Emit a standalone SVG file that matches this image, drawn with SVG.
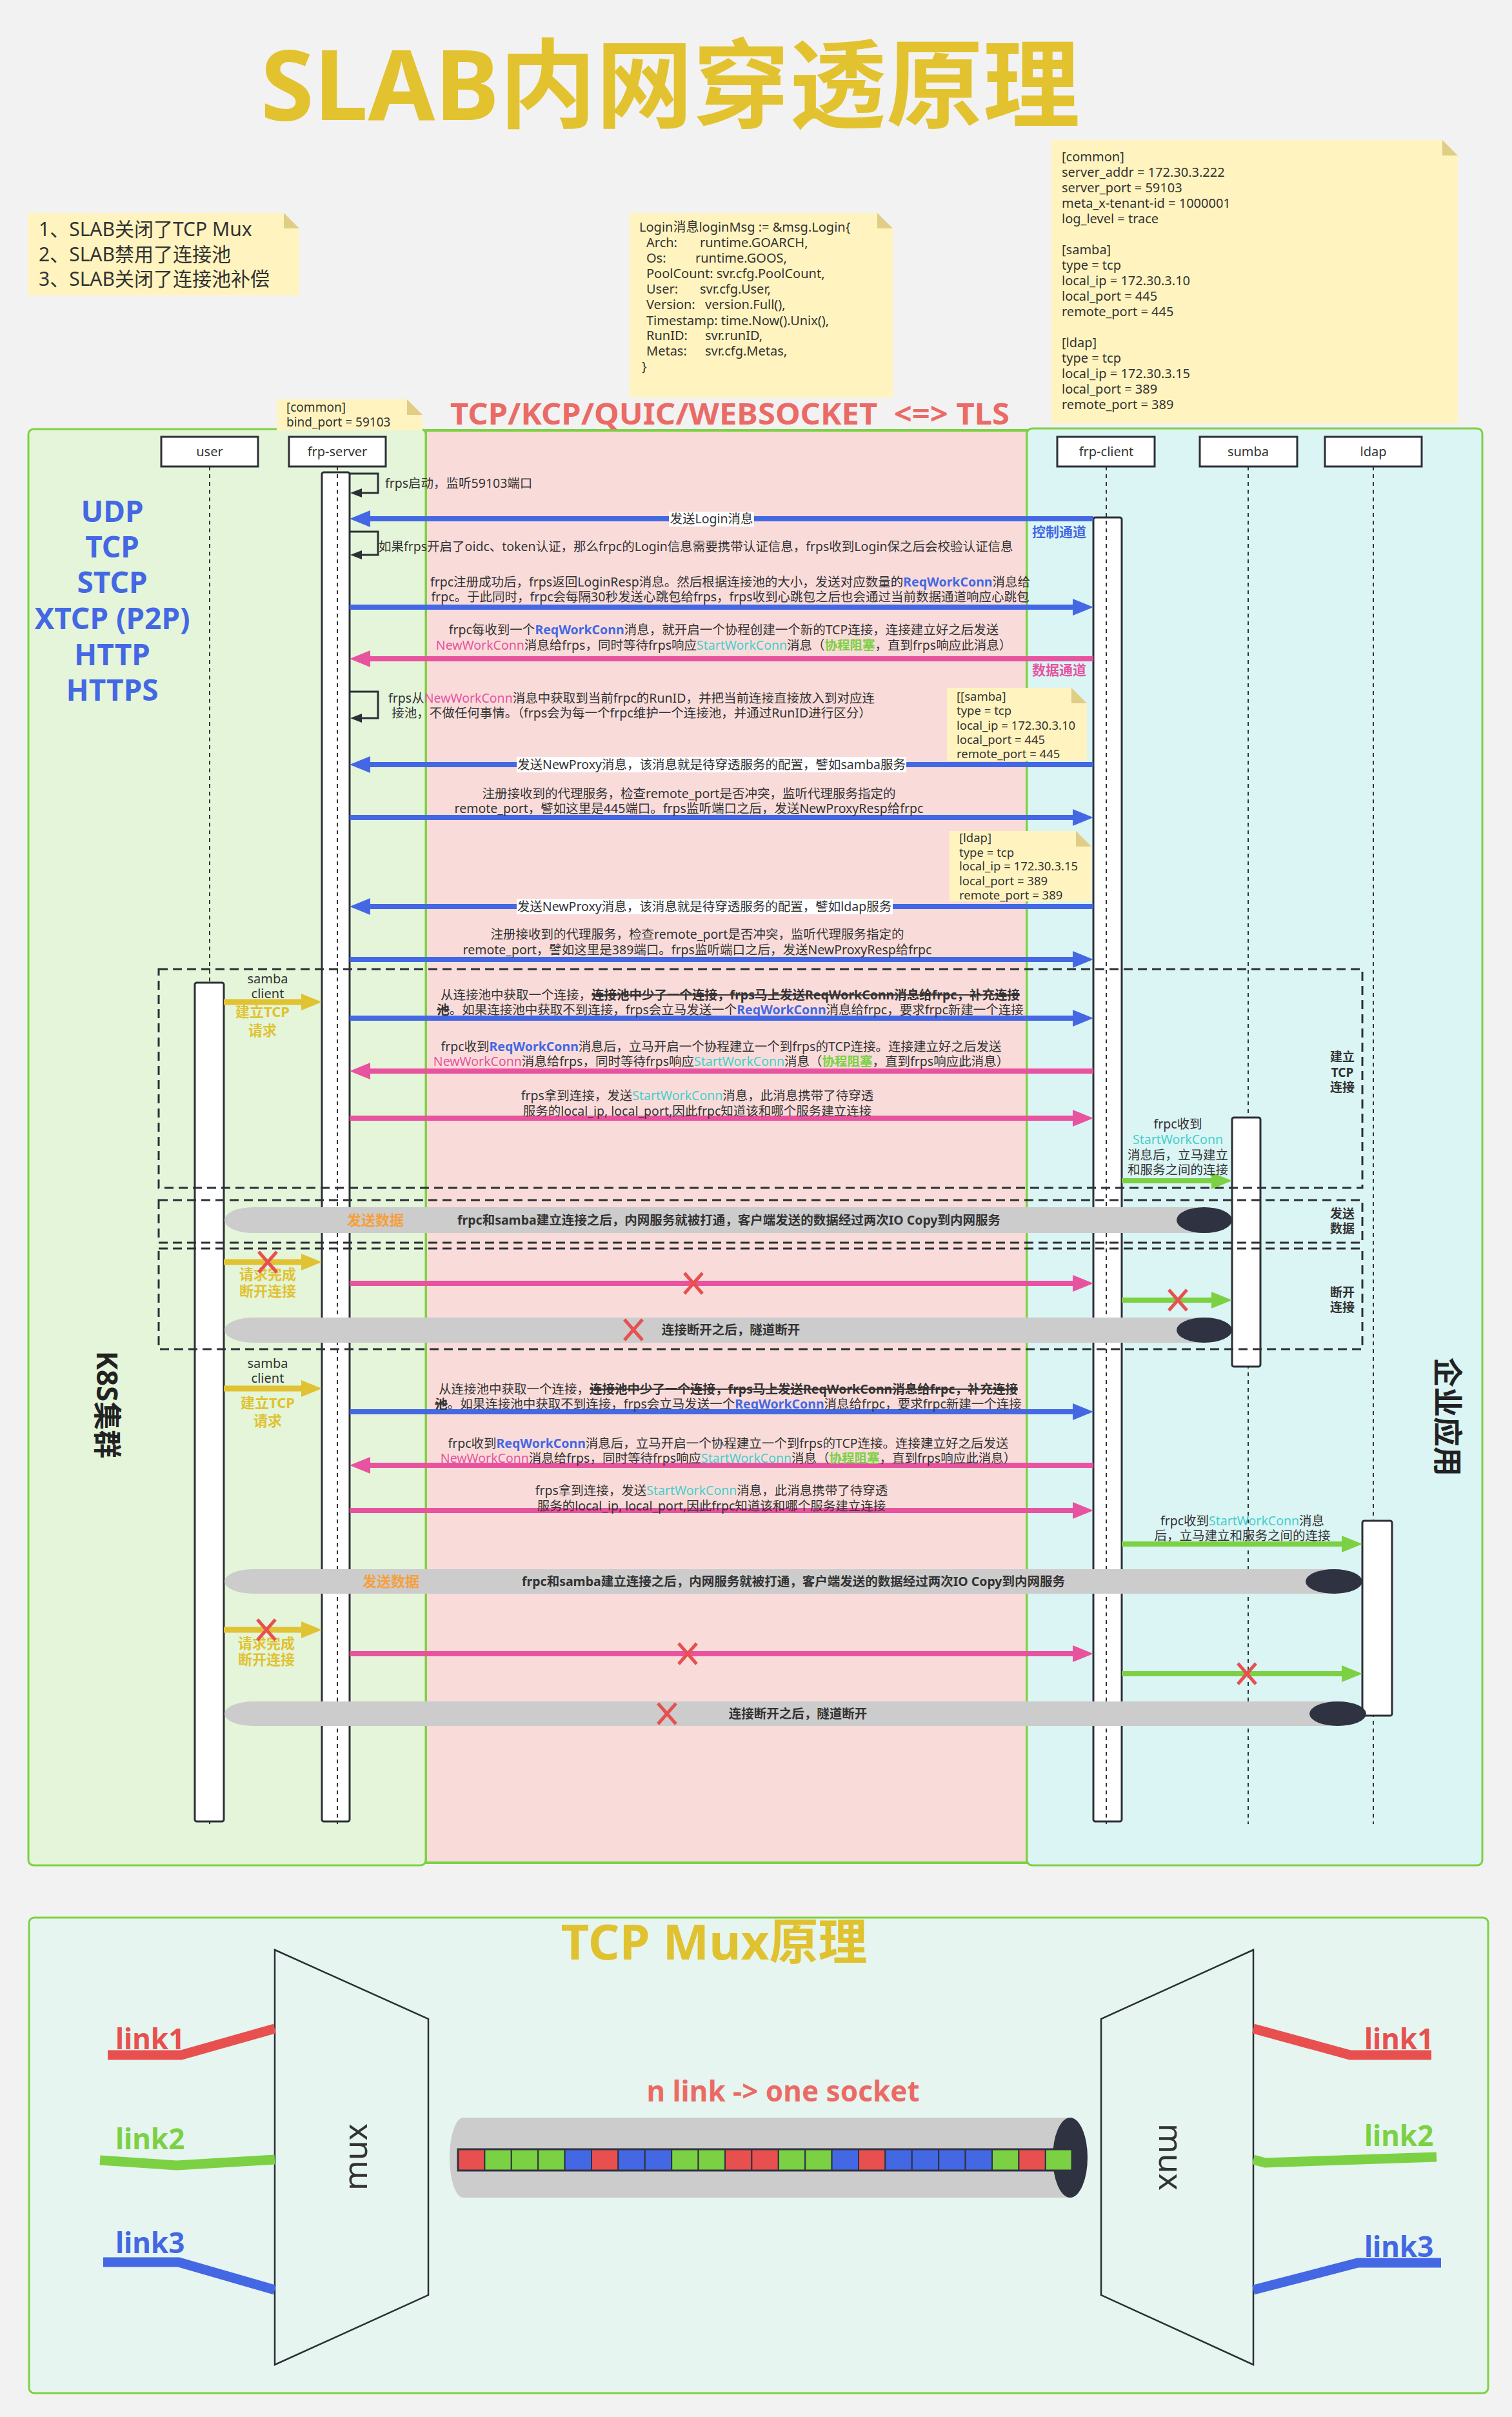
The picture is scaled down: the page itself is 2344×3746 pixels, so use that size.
<svg xmlns="http://www.w3.org/2000/svg" width="2344" height="3746" viewBox="0 0 2344 3746">
<defs>
<style>
text{font-family:"Noto Sans","Noto Sans CJK SC",sans-serif;fill:#333}
.m{font-size:19.5px;text-anchor:middle}
.ml{font-size:19.5px}
.b{font-weight:bold}
.bl{fill:#4468e4}
.pk{fill:#e8539f}
.tl{fill:#45cfcc}
.gn{fill:#7bd143}
.yl{fill:#e1c232}
.og{fill:#f5a03c}
.note{fill:#fff4bf}
.fold{fill:#e0cd86}
.nt{font-size:20px}
.sn{font-size:18.5px}
.life{stroke:#333;stroke-width:2;stroke-dasharray:6 6;fill:none}
.bar{fill:#fff;stroke:#2b2f36;stroke-width:3}
.head{fill:#fff;stroke:#2b2f36;stroke-width:3}
.frag{fill:none;stroke:#2b2f36;stroke-width:3;stroke-dasharray:14 8}
.aB{stroke:#4468e4;stroke-width:8;fill:none;marker-end:url(#hB)}
.aP{stroke:#e8539f;stroke-width:8;fill:none;marker-end:url(#hP)}
.aY{stroke:#e1c232;stroke-width:9;fill:none;marker-end:url(#hY)}
.aG{stroke:#7bd143;stroke-width:8;fill:none;marker-end:url(#hG)}
.self{stroke:#2b2f36;stroke-width:3;fill:none;marker-end:url(#hK)}
.x{stroke:#e85050;stroke-width:5}
.band{fill:#cccccc}
.blob{fill:#2f3241}
.rl{font-size:19px;font-weight:bold;text-anchor:middle}
.yt{font-size:22px;font-weight:bold;text-anchor:middle;fill:#e1c232}
.lk{font-size:44px;font-weight:bold}
.proto{font-size:46px;font-weight:bold;text-anchor:middle;fill:#4468e4}
</style>
<marker id="hB" markerUnits="userSpaceOnUse" markerWidth="32" markerHeight="26" viewBox="0 0 32 26" refX="2" refY="13" orient="auto"><path d="M0,0 L32,13 L0,26 z" fill="#4468e4"/></marker>
<marker id="hP" markerUnits="userSpaceOnUse" markerWidth="32" markerHeight="26" viewBox="0 0 32 26" refX="2" refY="13" orient="auto"><path d="M0,0 L32,13 L0,26 z" fill="#e8539f"/></marker>
<marker id="hY" markerUnits="userSpaceOnUse" markerWidth="32" markerHeight="26" viewBox="0 0 32 26" refX="2" refY="13" orient="auto"><path d="M0,0 L32,13 L0,26 z" fill="#e1c232"/></marker>
<marker id="hG" markerUnits="userSpaceOnUse" markerWidth="32" markerHeight="26" viewBox="0 0 32 26" refX="2" refY="13" orient="auto"><path d="M0,0 L32,13 L0,26 z" fill="#7bd143"/></marker>
<marker id="hK" markerUnits="userSpaceOnUse" markerWidth="18" markerHeight="14" viewBox="0 0 18 14" refX="1" refY="7" orient="auto"><path d="M0,0 L18,7 L0,14 z" fill="#2b2f36"/></marker>
</defs>

<rect x="0" y="0" width="2344" height="3746" fill="#f2f2f2"/>

<text x="1039" y="186" text-anchor="middle" font-size="150" font-weight="bold" style="fill:#e3c22f">SLAB内网穿透原理</text>

<!-- frames -->
<g id="frame-internet">
<rect x="660" y="667" width="932" height="2220" fill="#f9dcda" stroke="#7ed144" stroke-width="4"/>
</g>
<g id="frame-k8s">
<rect x="44" y="665" width="616" height="2226" rx="8" fill="#e4f5d9" stroke="#7ed144" stroke-width="3"/>
<text transform="translate(167,2177) rotate(90)" text-anchor="middle" dominant-baseline="central" font-size="44" font-weight="bold" style="fill:#222">K8S集群</text>
<text class="proto" x="174" y="809">UDP</text>
<text class="proto" x="174" y="864">TCP</text>
<text class="proto" x="174" y="919">STCP</text>
<text class="proto" x="174" y="975">XTCP (P2P)</text>
<text class="proto" x="174" y="1031">HTTP</text>
<text class="proto" x="174" y="1086">HTTPS</text>
</g>
<g id="frame-enterprise">
<rect x="1592" y="664" width="706" height="2227" rx="8" fill="#dbf4f4" stroke="#7ed144" stroke-width="3"/>
<text transform="translate(2246,2196) rotate(90)" text-anchor="middle" dominant-baseline="central" font-size="46" font-weight="bold" style="fill:#222">企业应用</text>
</g>
<text x="698" y="658" font-size="46" font-weight="bold" textLength="867" lengthAdjust="spacingAndGlyphs" style="fill:#ea6b66" xml:space="preserve">TCP/KCP/QUIC/WEBSOCKET  &lt;=&gt; TLS</text>

<!-- notes -->
<g id="note-slab">
<polygon class="note" points="43,330 440,330 464,354 464,458 43,458"/>
<polygon class="fold" points="440,330 440,354 464,354"/>
<text x="60" y="366" font-size="30">1、SLAB关闭了TCP Mux</text>
<text x="60" y="405" font-size="30">2、SLAB禁用了连接池</text>
<text x="60" y="443" font-size="30">3、SLAB关闭了连接池补偿</text>
</g>
<g id="note-login">
<polygon class="note" points="976,330 1360,330 1384,354 1384,616 976,616"/>
<polygon class="fold" points="1360,330 1360,354 1384,354"/>
<text class="nt" x="991" y="359">Login消息loginMsg := &amp;msg.Login{</text>
<text class="nt" x="1002" y="383">Arch:<tspan x="1085">runtime.GOARCH,</tspan></text>
<text class="nt" x="1002" y="407">Os:<tspan x="1078">runtime.GOOS,</tspan></text>
<text class="nt" x="1002" y="431">PoolCount: svr.cfg.PoolCount,</text>
<text class="nt" x="1002" y="455">User:<tspan x="1085">svr.cfg.User,</tspan></text>
<text class="nt" x="1002" y="479">Version:<tspan x="1093">version.Full(),</tspan></text>
<text class="nt" x="1002" y="504">Timestamp: time.Now().Unix(),</text>
<text class="nt" x="1002" y="527">RunID:<tspan x="1093">svr.runID,</tspan></text>
<text class="nt" x="1002" y="551">Metas:<tspan x="1093">svr.cfg.Metas,</tspan></text>
<text class="nt" x="995" y="575">}</text>
</g>
<g id="note-frpc-config">
<polygon class="note" points="1630,217 2236,217 2260,241 2260,656 1630,656"/>
<polygon class="fold" points="2236,217 2236,241 2260,241"/>
<text class="nt" x="1646" y="250">[common]</text>
<text class="nt" x="1646" y="274">server_addr = 172.30.3.222</text>
<text class="nt" x="1646" y="298">server_port = 59103</text>
<text class="nt" x="1646" y="322">meta_x-tenant-id = 1000001</text>
<text class="nt" x="1646" y="346">log_level = trace</text>
<text class="nt" x="1646" y="394">[samba]</text>
<text class="nt" x="1646" y="418">type = tcp</text>
<text class="nt" x="1646" y="442">local_ip = 172.30.3.10</text>
<text class="nt" x="1646" y="466">local_port = 445</text>
<text class="nt" x="1646" y="490">remote_port = 445</text>
<text class="nt" x="1646" y="538">[ldap]</text>
<text class="nt" x="1646" y="562">type = tcp</text>
<text class="nt" x="1646" y="586">local_ip = 172.30.3.15</text>
<text class="nt" x="1646" y="610">local_port = 389</text>
<text class="nt" x="1646" y="634">remote_port = 389</text>
</g>
<g id="note-frps-config">
<polygon class="note" points="429,619 631,619 655,643 655,667 429,667"/>
<polygon class="fold" points="631,619 631,643 655,643"/>
<text x="444" y="638" font-size="19">[common]</text>
<text x="444" y="661" font-size="19">bind_port = 59103</text>
</g>

<!-- participants -->
<g id="user">
<rect class="head" x="250" y="677" width="150" height="46"/>
<text x="325" y="707" font-size="20" text-anchor="middle">user</text>
<line class="life" x1="325" y1="723" x2="325" y2="2827"/>
<rect class="bar" x="302" y="1523" width="45" height="1300" rx="3"/>
</g>
<g id="frp-server">
<rect class="head" x="448" y="677" width="150" height="46"/>
<text x="523" y="707" font-size="20" text-anchor="middle">frp-server</text>
<rect class="bar" x="499" y="732" width="43" height="2091" rx="3"/>
<line class="life" x1="523" y1="723" x2="523" y2="2827"/>
</g>
<g id="frp-client">
<rect class="head" x="1639" y="677" width="151" height="46"/>
<text x="1715" y="707" font-size="20" text-anchor="middle">frp-client</text>
<rect class="bar" x="1695" y="802" width="44" height="2021" rx="3"/>
<line class="life" x1="1715" y1="723" x2="1715" y2="2827"/>
</g>
<g id="sumba">
<rect class="head" x="1860" y="677" width="151" height="46"/>
<text x="1935" y="707" font-size="20" text-anchor="middle">sumba</text>
<line class="life" x1="1935" y1="723" x2="1935" y2="2827"/>
<rect class="bar" x="1910" y="1732" width="44" height="386" rx="3"/>
</g>
<g id="ldap">
<rect class="head" x="2054" y="677" width="150" height="46"/>
<text x="2129" y="707" font-size="20" text-anchor="middle">ldap</text>
<line class="life" x1="2129" y1="723" x2="2129" y2="2827"/>
<rect class="bar" x="2112" y="2357" width="46" height="302" rx="3"/>
</g>

<!-- small notes -->
<g id="note-samba">
<polygon class="note" points="1468,1066 1661,1066 1685,1090 1685,1179 1468,1179"/>
<polygon class="fold" points="1661,1066 1661,1090 1685,1090"/>
<text class="sn" x="1483" y="1086">[[samba]</text>
<text class="sn" x="1483" y="1108">type = tcp</text>
<text class="sn" x="1483" y="1131">local_ip = 172.30.3.10</text>
<text class="sn" x="1483" y="1153">local_port = 445</text>
<text class="sn" x="1483" y="1175">remote_port = 445</text>
</g>
<g id="note-ldap">
<polygon class="note" points="1472,1288 1668,1288 1692,1312 1692,1397 1472,1397"/>
<polygon class="fold" points="1668,1288 1668,1312 1692,1312"/>
<text class="sn" x="1487" y="1305">[ldap]</text>
<text class="sn" x="1487" y="1328">type = tcp</text>
<text class="sn" x="1487" y="1349">local_ip = 172.30.3.15</text>
<text class="sn" x="1487" y="1372">local_port = 389</text>
<text class="sn" x="1487" y="1394">remote_port = 389</text>
</g>

<!-- fragments -->
<g id="fragments">
<rect class="frag" x="246" y="1502" width="1866" height="339"/>
<rect class="frag" x="246" y="1860" width="1866" height="66"/>
<rect class="frag" x="246" y="1935" width="1866" height="156"/>
<text class="rl" x="2081" y="1645">建立</text>
<text class="rl" x="2081" y="1669">TCP</text>
<text class="rl" x="2081" y="1692">连接</text>
<text class="rl" x="2081" y="1888">发送</text>
<text class="rl" x="2081" y="1911">数据</text>
<text class="rl" x="2081" y="2010">断开</text>
<text class="rl" x="2081" y="2033">连接</text>
</g>

<!-- connectors -->
<g id="connectors">
<path class="self" d="M542,734 H586 V764 H560"/>
<path class="self" d="M542,824 H586 V860 H560"/>
<path class="self" d="M542,1072 H586 V1113 H560"/>
<line class="aB" x1="1695" y1="804" x2="572" y2="804"/>
<line class="aB" x1="542" y1="941" x2="1665" y2="941"/>
<line class="aP" x1="1695" y1="1021" x2="572" y2="1021"/>
<line class="aB" x1="1695" y1="1185" x2="572" y2="1185"/>
<line class="aB" x1="542" y1="1267" x2="1665" y2="1267"/>
<line class="aB" x1="1695" y1="1405" x2="572" y2="1405"/>
<line class="aB" x1="542" y1="1487" x2="1665" y2="1487"/>
<line class="aY" x1="347" y1="1553" x2="469" y2="1553"/>
<line class="aB" x1="542" y1="1578" x2="1665" y2="1578"/>
<line class="aP" x1="1695" y1="1660" x2="572" y2="1660"/>
<line class="aP" x1="542" y1="1733" x2="1665" y2="1733"/>
<line class="aG" x1="1739" y1="1830" x2="1880" y2="1830"/>
<line class="aY" x1="347" y1="1956" x2="469" y2="1956"/>
<line class="aP" x1="542" y1="1989" x2="1665" y2="1989"/>
<line class="aG" x1="1739" y1="2015" x2="1880" y2="2015"/>
<line class="aY" x1="347" y1="2152" x2="469" y2="2152"/>
<line class="aB" x1="542" y1="2188" x2="1665" y2="2188"/>
<line class="aP" x1="1695" y1="2271" x2="572" y2="2271"/>
<line class="aP" x1="542" y1="2341" x2="1665" y2="2341"/>
<line class="aG" x1="1739" y1="2393" x2="2082" y2="2393"/>
<line class="aY" x1="347" y1="2526" x2="469" y2="2526"/>
<line class="aP" x1="542" y1="2563" x2="1665" y2="2563"/>
<line class="aG" x1="1739" y1="2594" x2="2082" y2="2594"/>
</g>

<!-- message labels -->
<g id="labels">
<text class="ml" x="597" y="756">frps启动，监听59103端口</text>
<rect x="1037" y="793" width="132" height="23" fill="#fff"/>
<text class="m" x="1103" y="811">发送Login消息</text>
<text class="ml" x="587" y="854">如果frps开启了oidc、token认证，那么frpc的Login信息需要携带认证信息，frps收到Login保之后会校验认证信息</text>
<text class="b bl" x="1642" y="832" font-size="21" text-anchor="middle">控制通道</text>
<text class="m" x="1132" y="909">frpc注册成功后，frps返回LoginResp消息。然后根据连接池的大小，发送对应数量的<tspan class="b bl">ReqWorkConn</tspan>消息给</text>
<text class="m" x="1132" y="932">frpc。于此同时，frpc会每隔30秒发送心跳包给frps，frps收到心跳包之后也会通过当前数据通道响应心跳包</text>
<text class="m" x="1122" y="983">frpc每收到一个<tspan class="b bl">ReqWorkConn</tspan>消息，就开启一个协程创建一个新的TCP连接，连接建立好之后发送</text>
<text class="m" x="1122" y="1007"><tspan class="pk">NewWorkConn</tspan>消息给frps，同时等待frps响应<tspan class="tl">StartWorkConn</tspan>消息（<tspan class="b gn">协程阻塞</tspan>，直到frps响应此消息）</text>
<text class="b pk" x="1642" y="1046" font-size="21" text-anchor="middle">数据通道</text>
<text class="m" x="979" y="1089">frps从<tspan class="pk">NewWorkConn</tspan>消息中获取到当前frpc的RunID，并把当前连接直接放入到对应连</text>
<text class="m" x="979" y="1112">接池，不做任何事情。（frps会为每一个frpc维护一个连接池，并通过RunID进行区分）</text>
<rect x="801" y="1173" width="604" height="24" fill="#fff"/>
<text class="m" x="1103" y="1192">发送NewProxy消息，该消息就是待穿透服务的配置，譬如samba服务</text>
<text class="m" x="1068" y="1237">注册接收到的代理服务，检查remote_port是否冲突，监听代理服务指定的</text>
<text class="m" x="1068" y="1260">remote_port，譬如这里是445端口。frps监听端口之后，发送NewProxyResp给frpc</text>
<rect x="801" y="1393" width="583" height="24" fill="#fff"/>
<text class="m" x="1092" y="1412">发送NewProxy消息，该消息就是待穿透服务的配置，譬如ldap服务</text>
<text class="m" x="1081" y="1455">注册接收到的代理服务，检查remote_port是否冲突，监听代理服务指定的</text>
<text class="m" x="1081" y="1479">remote_port，譬如这里是389端口。frps监听端口之后，发送NewProxyResp给frpc</text>

<text x="415" y="1524" font-size="20" text-anchor="middle">samba</text>
<text x="415" y="1547" font-size="20" text-anchor="middle">client</text>
<text class="yt" x="407" y="1576">建立TCP</text>
<text class="yt" x="407" y="1605">请求</text>
<text class="m" x="1132" y="1549">从连接池中获取一个连接，<tspan font-weight="bold" text-decoration="line-through">连接池中少了一个连接，frps马上发送ReqWorkConn消息给frpc，补充连接</tspan></text>
<text class="m" x="1132" y="1572"><tspan font-weight="bold" text-decoration="line-through">池</tspan>。如果连接池中获取不到连接，frps会立马发送一个<tspan class="b bl">ReqWorkConn</tspan>消息给frpc，要求frpc新建一个连接</text>
<text class="m" x="1118" y="1629">frpc收到<tspan class="b bl">ReqWorkConn</tspan>消息后，立马开启一个协程建立一个到frps的TCP连接。连接建立好之后发送</text>
<text class="m" x="1118" y="1652"><tspan class="pk">NewWorkConn</tspan>消息给frps，同时等待frps响应<tspan class="tl">StartWorkConn</tspan>消息（<tspan class="b gn">协程阻塞</tspan>，直到frps响应此消息）</text>
<text class="m" x="1081" y="1705">frps拿到连接，发送<tspan class="tl">StartWorkConn</tspan>消息，此消息携带了待穿透</text>
<text class="m" x="1081" y="1729">服务的local_ip, local_port,因此frpc知道该和哪个服务建立连接</text>
<text class="m" x="1826" y="1749">frpc收到</text>
<text class="m tl" x="1826" y="1773">StartWorkConn</text>
<text class="m" x="1826" y="1797">消息后，立马建立</text>
<text class="m" x="1826" y="1820">和服务之间的连接</text>

<text class="yt" x="415" y="1983">请求完成</text>
<text class="yt" x="415" y="2009">断开连接</text>

<text x="415" y="2120" font-size="20" text-anchor="middle">samba</text>
<text x="415" y="2143" font-size="20" text-anchor="middle">client</text>
<text class="yt" x="415" y="2182">建立TCP</text>
<text class="yt" x="415" y="2210">请求</text>
<text class="m" x="1129" y="2160">从连接池中获取一个连接，<tspan font-weight="bold" text-decoration="line-through">连接池中少了一个连接，frps马上发送ReqWorkConn消息给frpc，补充连接</tspan></text>
<text class="m" x="1129" y="2183"><tspan font-weight="bold" text-decoration="line-through">池</tspan>。如果连接池中获取不到连接，frps会立马发送一个<tspan class="b bl">ReqWorkConn</tspan>消息给frpc，要求frpc新建一个连接</text>
<text class="m" x="1129" y="2244">frpc收到<tspan class="b bl">ReqWorkConn</tspan>消息后，立马开启一个协程建立一个到frps的TCP连接。连接建立好之后发送</text>
<text class="m" x="1129" y="2267"><tspan class="pk">NewWorkConn</tspan>消息给frps，同时等待frps响应<tspan class="tl">StartWorkConn</tspan>消息（<tspan class="b gn">协程阻塞</tspan>，直到frps响应此消息）</text>
<text class="m" x="1103" y="2317">frps拿到连接，发送<tspan class="tl">StartWorkConn</tspan>消息，此消息携带了待穿透</text>
<text class="m" x="1103" y="2341">服务的local_ip, local_port,因此frpc知道该和哪个服务建立连接</text>
<text class="m" x="1926" y="2364">frpc收到<tspan class="tl">StartWorkConn</tspan>消息</text>
<text class="m" x="1926" y="2387">后，立马建立和服务之间的连接</text>

<text class="yt" x="413" y="2555">请求完成</text>
<text class="yt" x="413" y="2580">断开连接</text>
</g>

<!-- data tunnels -->
<g id="band-1">
<path class="band" d="M393,1871 H1867 V1911 H393 A45,20 0 0 1 393,1871 Z"/>
<ellipse class="blob" cx="1867" cy="1891" rx="43" ry="20"/>
<text x="582" y="1899" font-size="22" font-weight="bold" text-anchor="middle" class="og">发送数据</text>
<text x="1130" y="1898" font-size="19.5" font-weight="bold" text-anchor="middle">frpc和samba建立连接之后，内网服务就被打通，客户端发送的数据经过两次IO Copy到内网服务</text>
</g>
<g id="band-2">
<path class="band" d="M393,2042 H1867 V2081 H393 A45,19.5 0 0 1 393,2042 Z"/>
<ellipse class="blob" cx="1867" cy="2061.5" rx="43" ry="19.5"/>
<text x="1133" y="2068" font-size="19.5" font-weight="bold" text-anchor="middle">连接断开之后，隧道断开</text>
</g>
<g id="band-3">
<path class="band" d="M393,2432 H2068 V2470 H393 A45,19 0 0 1 393,2432 Z"/>
<ellipse class="blob" cx="2068" cy="2451" rx="44" ry="19"/>
<text x="606" y="2459" font-size="22" font-weight="bold" text-anchor="middle" class="og">发送数据</text>
<text x="1230" y="2458" font-size="19.5" font-weight="bold" text-anchor="middle">frpc和samba建立连接之后，内网服务就被打通，客户端发送的数据经过两次IO Copy到内网服务</text>
</g>
<g id="band-4">
<path class="band" d="M393,2637 H2074 V2675 H393 A45,19 0 0 1 393,2637 Z"/>
<ellipse class="blob" cx="2074" cy="2656" rx="44" ry="19"/>
<text x="1237" y="2663" font-size="19.5" font-weight="bold" text-anchor="middle">连接断开之后，隧道断开</text>
</g>

<!-- X marks -->
<g id="cross-marks">
<path class="x" d="M401,1940 L429,1972 M429,1940 L401,1972"/>
<path class="x" d="M1061,1973 L1089,2005 M1089,1973 L1061,2005"/>
<path class="x" d="M1812,1999 L1840,2031 M1840,1999 L1812,2031"/>
<path class="x" d="M968,2045 L996,2077 M996,2045 L968,2077"/>
<path class="x" d="M399,2510 L427,2542 M427,2510 L399,2542"/>
<path class="x" d="M1052,2547 L1080,2579 M1080,2547 L1052,2579"/>
<path class="x" d="M1919,2578 L1947,2610 M1947,2578 L1919,2610"/>
<path class="x" d="M1020,2640 L1048,2672 M1048,2640 L1020,2672"/>
</g>

<!-- TCP Mux -->
<g id="mux-frame">
<rect x="45" y="2972" width="2262" height="737" rx="8" fill="#e6f5ef" stroke="#7ed144" stroke-width="3"/>
<text x="1107" y="3037" text-anchor="middle" font-size="76" font-weight="bold" style="fill:#e0c230">TCP Mux原理</text>
</g>
<g id="mux-left">
<polygon points="426,3022 664,3129 664,3557 426,3665" fill="#e6f5ef" stroke="#2b2f36" stroke-width="2.5"/>
<text transform="translate(550,3343) rotate(-90)" text-anchor="middle" dominant-baseline="central" font-size="50">mux</text>
</g>
<g id="mux-right">
<polygon points="1943,3022 1707,3129 1707,3557 1943,3665" fill="#e6f5ef" stroke="#2b2f36" stroke-width="2.5"/>
<text transform="translate(1816,3343) rotate(90)" text-anchor="middle" dominant-baseline="central" font-size="50">mux</text>
</g>
<g id="links">
<polyline points="167,3185 281,3185 426,3144" fill="none" stroke="#e85050" stroke-width="15"/>
<polyline points="155,3348 274,3356 426,3347" fill="none" stroke="#7bd143" stroke-width="15"/>
<polyline points="160,3506 277,3506 426,3549" fill="none" stroke="#4468e4" stroke-width="15"/>
<polyline points="1943,3144 2093,3185 2219,3185" fill="none" stroke="#e85050" stroke-width="15"/>
<polyline points="1943,3347 1961,3352 2227,3343" fill="none" stroke="#7bd143" stroke-width="15"/>
<polyline points="1943,3549 2105,3507 2234,3507" fill="none" stroke="#4468e4" stroke-width="15"/>
<text class="lk" x="179" y="3176" style="fill:#e85050">link1</text>
<text class="lk" x="179" y="3331" style="fill:#7bd143">link2</text>
<text class="lk" x="179" y="3492" style="fill:#4468e4">link3</text>
<text class="lk" x="2115" y="3176" style="fill:#e85050">link1</text>
<text class="lk" x="2115" y="3326" style="fill:#7bd143">link2</text>
<text class="lk" x="2115" y="3498" style="fill:#4468e4">link3</text>
</g>
<g id="socket">
<text x="1214" y="3257" text-anchor="middle" font-size="44" font-weight="bold" style="fill:#ea6b66">n link -&gt; one socket</text>
<ellipse cx="718" cy="3344" rx="21" ry="62" fill="#cccccc"/>
<rect x="718" y="3282" width="941" height="124" fill="#cccccc"/>
<ellipse cx="1659" cy="3344" rx="27" ry="62" fill="#2f3241"/>
<g stroke="#2f3241" stroke-width="2">
<rect x="710" y="3331" width="41.4" height="33" fill="#e85050"/>
<rect x="751.4" y="3331" width="41.4" height="33" fill="#7bd143"/>
<rect x="792.8" y="3331" width="41.4" height="33" fill="#7bd143"/>
<rect x="834.2" y="3331" width="41.4" height="33" fill="#7bd143"/>
<rect x="875.6" y="3331" width="41.4" height="33" fill="#4468e4"/>
<rect x="917" y="3331" width="41.4" height="33" fill="#e85050"/>
<rect x="958.4" y="3331" width="41.4" height="33" fill="#4468e4"/>
<rect x="999.8" y="3331" width="41.4" height="33" fill="#4468e4"/>
<rect x="1041.2" y="3331" width="41.4" height="33" fill="#7bd143"/>
<rect x="1082.6" y="3331" width="41.4" height="33" fill="#7bd143"/>
<rect x="1124" y="3331" width="41.4" height="33" fill="#e85050"/>
<rect x="1165.4" y="3331" width="41.4" height="33" fill="#e85050"/>
<rect x="1206.8" y="3331" width="41.4" height="33" fill="#7bd143"/>
<rect x="1248.2" y="3331" width="41.4" height="33" fill="#7bd143"/>
<rect x="1289.6" y="3331" width="41.4" height="33" fill="#4468e4"/>
<rect x="1331" y="3331" width="41.4" height="33" fill="#e85050"/>
<rect x="1372.4" y="3331" width="41.4" height="33" fill="#4468e4"/>
<rect x="1413.8" y="3331" width="41.4" height="33" fill="#4468e4"/>
<rect x="1455.2" y="3331" width="41.4" height="33" fill="#4468e4"/>
<rect x="1496.6" y="3331" width="41.4" height="33" fill="#4468e4"/>
<rect x="1538" y="3331" width="41.4" height="33" fill="#7bd143"/>
<rect x="1579.4" y="3331" width="41.4" height="33" fill="#e85050"/>
<rect x="1620.8" y="3331" width="41.2" height="33" fill="#7bd143"/>
</g>
<rect x="710" y="3331" width="952" height="33" fill="none" stroke="#2f3241" stroke-width="3"/>
</g>
</svg>
